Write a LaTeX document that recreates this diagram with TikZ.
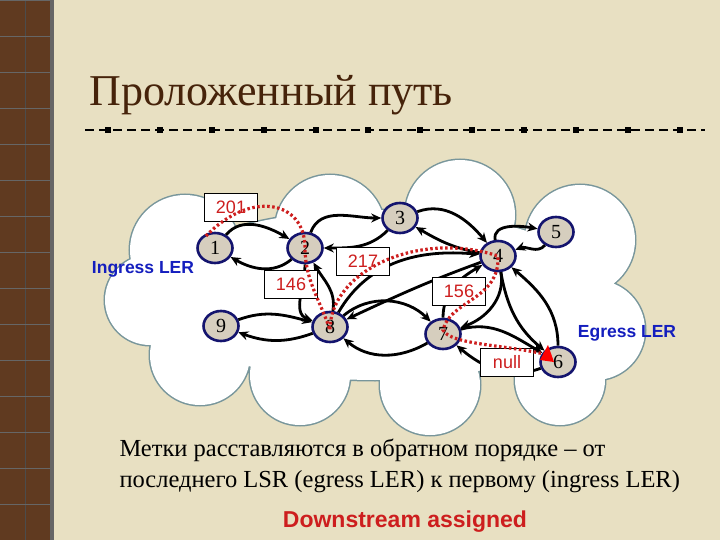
\documentclass[tikz,border=0pt]{standalone}
\usepackage{fontspec}
\setmainfont{Liberation Serif}
\setsansfont{Liberation Sans}
\usetikzlibrary{arrows.meta,shapes.geometric}
\definecolor{bg}{RGB}{232,224,194}
\definecolor{strip}{RGB}{96,58,32}
\definecolor{titlec}{RGB}{70,35,10}
\definecolor{cloudc}{RGB}{120,150,155}
\definecolor{nodef}{RGB}{214,206,190}
\definecolor{navy}{RGB}{20,20,110}
\definecolor{lred}{RGB}{205,30,30}
\definecolor{lblue}{RGB}{20,30,190}
\tikzset{
  rn/.style={ellipse,draw=navy,line width=2.6pt,fill=nodef,minimum width=35pt,minimum height=30pt,inner sep=0pt,font=\fontsize{20}{20}\selectfont},
  lab/.style={draw=black,line width=0.6pt,fill=white,minimum width=53pt,minimum height=28pt,inner sep=0pt,text=lred,font=\sffamily\fontsize{18}{18}\selectfont},
  ed/.style={line width=2.8pt,-{Stealth[length=10pt,width=9pt]}},
  rp/.style={draw=lred,line width=3.2pt,dash pattern=on 2.5pt off 2.5pt},
}
\begin{document}
\begin{tikzpicture}[x=1pt,y=-1pt]
\useasboundingbox (0,0) rectangle (720,540);
\fill[bg] (0,0) rectangle (720,540);
\fill[strip] (0,0) rectangle (52,540);
\draw[black!70,line width=0.8pt] (25,0) -- (25,540);
\foreach \yy in {0,36,...,540}{\draw[black!60,line width=0.6pt] (0,\yy) -- (52,\yy);}
\fill[black!60] (50,0) rectangle (54,540);
% title
\node[anchor=west,text=titlec,font=\fontsize{44}{44}\selectfont] (title) at (86,95) {Проложенный путь};
\draw[black,line width=1.3pt,dash pattern=on 9pt off 5pt] (85,130) -- (705,130);
\foreach \xx in {108,160,...,700}{\fill[black] (\xx-3,127) rectangle (\xx+3,133);}
% cloud
\def\cloud{
 (185,250) circle (55) (150,300) circle (45) (330,230) circle (55) (460,215) circle (55)
 (580,240) circle (55) (595,330) circle (50) (560,380) circle (45) (430,385) circle (50)
 (300,375) circle (50) (200,355) circle (50) (375,295) ellipse (230 and 85)}
\draw[cloudc,line width=3pt] \cloud;
\fill[white] \cloud;
% nodes
\node[rn] (n1) at (215,248) {1};
\node[rn] (n2) at (305,248) {2};
\node[rn] (n3) at (400,218) {3};
\node[rn] (n4) at (498,256) {4};
\node[rn] (n5) at (556,232) {5};
\node[rn] (n9) at (221,326) {9};
\node[rn] (n8) at (330,327) {8};
\node[rn] (n7) at (443,334) {7};
\node[rn] (n6) at (558,362) {6};
% labels
\node[font=\sffamily\bfseries\fontsize{17.5}{17.5}\selectfont,text=lblue] (ing) at (143,269) {Ingress LER};
\node[font=\sffamily\bfseries\fontsize{17.5}{17.5}\selectfont,text=lblue] (egr) at (627,333) {Egress LER};
% black edges
\draw[ed] (n1) to[out=50,in=150] (n2);
\draw[ed] (n2) to[out=220,in=330] (n1);
\draw[ed] (n2) to[out=70,in=180] (n3);
\draw[ed] (n3) to[out=225,in=0] (n2);
\draw[ed] (n3) to[out=20,in=130] (n4);
\draw[ed] (n4) to[out=170,in=330] (n3);
\draw[ed] (n4) to[out=100,in=170] (n5);
\draw[ed] (n5) to[out=230,in=20] (n4);
\draw[ed] (n2) to[out=270,in=160] (n8);
\draw[ed] (n8) to[out=80,in=300] (n2);
\draw[ed] (n8) to[out=60,in=175] (n4);
\draw[ed] (n4) to[out=200,in=25] (n8);
\draw[ed] (n9) to[out=20,in=165] (n8);
\draw[ed] (n8) to[out=200,in=340] (n9);
\draw[ed] (n8) to[out=40,in=135] (n7);
\draw[ed] (n7) to[out=210,in=320] (n8);
\draw[ed] (n7) to[out=90,in=210] (n4);
\draw[ed] (n4) to[out=280,in=20] (n7);
\draw[ed] (n4) to[out=280,in=140] (n6);
\draw[ed] (n6) to[out=90,in=320] (n4);
\draw[ed] (n7) to[out=15,in=150] (n6);
\draw[ed] (n6) to[out=200,in=320] (n7);
% label boxes
\node[lab] (l201) at (231,207) {201};
\node[lab] (l146) at (291,284) {146};
\node[lab] (l217) at (363,261) {217};
\node[lab] (l156) at (459,291) {156};
\node[lab] (lnull) at (507,362) {null};
% red path
\draw[rp] (206,236) .. controls (250,190) and (305,200) .. (305,248)
  .. controls (305,280) and (320,300) .. (330,330)
  .. controls (330,270) and (420,230) .. (498,256)
  .. controls (500,300) and (450,300) .. (443,330)
  .. controls (450,345) and (510,345) .. (548,355);
\fill[red] (540,360) -- (548,345) -- (554,362) -- cycle;
% text
\node[anchor=west,align=left,font=\fontsize{24.5}{31}\selectfont] (txt) at (116,466) {Метки расставляются в обратном порядке – от\\последнего LSR (egress LER) к первому (ingress LER)};
\node[text=lred,font=\sffamily\bfseries\fontsize{23}{23}\selectfont] (ds) at (405,522) {Downstream assigned};
\end{tikzpicture}
\end{document}
